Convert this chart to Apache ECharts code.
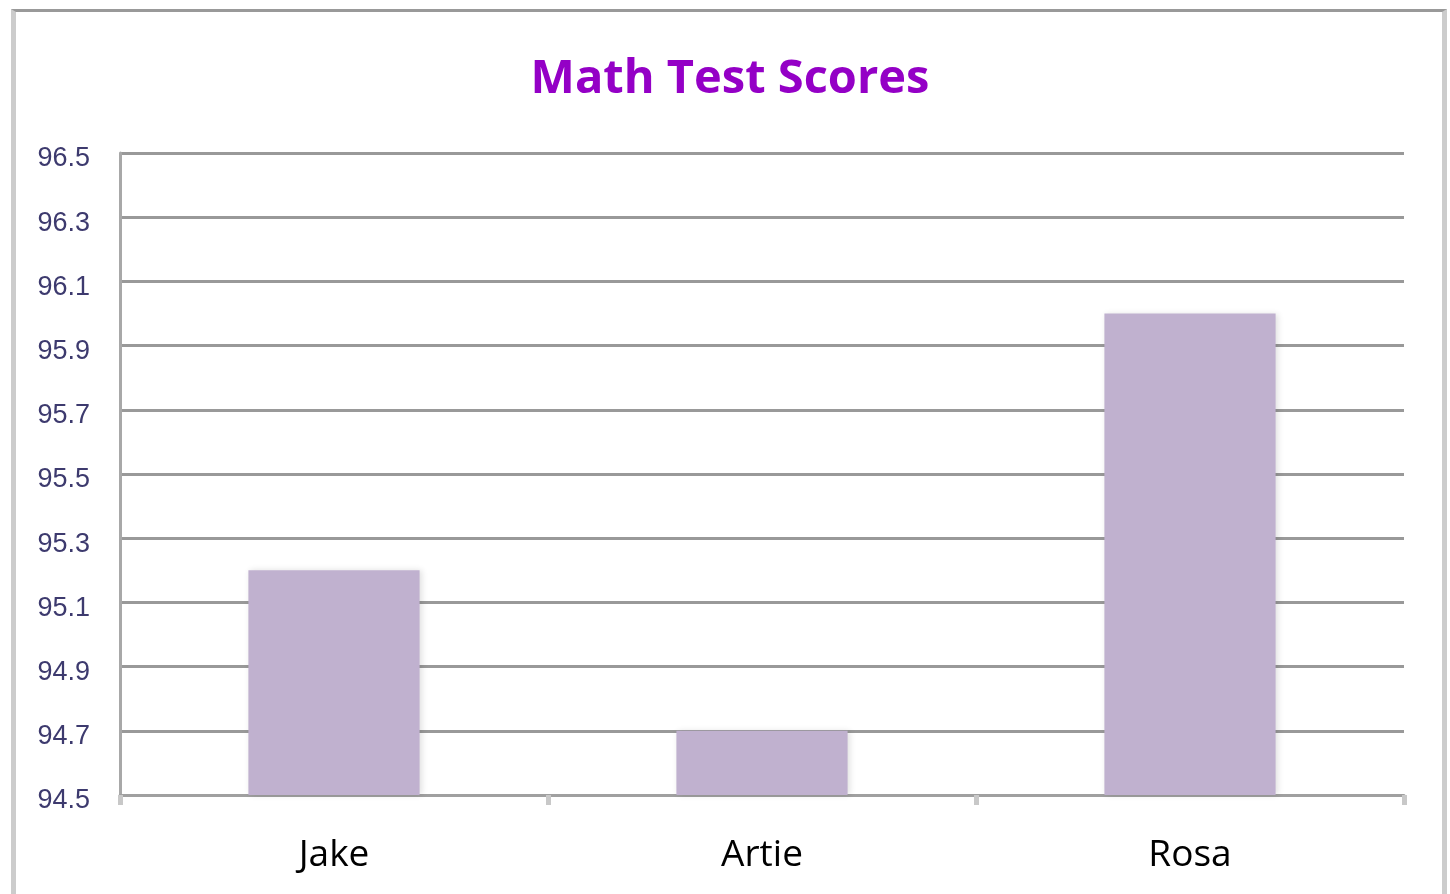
<!DOCTYPE html>
<html>
<head>
<meta charset="utf-8">
<script src="https://cdn.jsdelivr.net/npm/echarts@6/dist/echarts.min.js"></script>
<style>
  html, body { margin: 0; padding: 0; background: #fff; }
  #frame {
    position: absolute; left: 11px; top: 9px; width: 1426px; height: 900px;
    border-top: 3px solid #999; border-left: 5px solid #ccc; border-right: 5px solid #ccc;
  }
  #main { position: absolute; left: 0; top: 0; width: 1450px; height: 894px; }
</style>
</head>
<body>
<div id="frame"></div>
<div id="main"></div>
<script>
// 数据
var names = ['Jake', 'Artie', 'Rosa'];
var scores = [95.2, 94.7, 96.0];

var myChart = echarts.init(document.getElementById('main'));
myChart.setOption({
  title: {
    text: 'Math Test Scores',
    left: 725,
    textAlign: 'center',
    top: 51,
    textStyle: { fontFamily: 'Open Sans', fontWeight: 'bold', fontSize: 47, color: '#9400c6' }
  },
  grid: { left: 120, right: 46, top: 153, bottom: 99, containLabel: false },
  xAxis: {
    type: 'category',
    data: names,
    axisLine: { lineStyle: { color: '#a0a0a0', width: 3 } },
    axisTick: { show: true, length: 10, lineStyle: { color: '#c8c8c8', width: 5 } },
    axisLabel: { margin: 42, fontSize: 37, color: '#000', fontFamily: 'Open Sans' }
  },
  yAxis: {
    type: 'value',
    min: 94.5,
    max: 96.5,
    interval: 0.2,
    axisLine: { show: true, lineStyle: { color: '#a8a8a8', width: 3 } },
    axisTick: { show: false },
    splitLine: { lineStyle: { color: '#999', width: 3 } },
    axisLabel: {
      margin: 30,
      formatter: function (v) { return '{a|' + v.toFixed(1) + '}'; },
      rich: {
        a: { fontSize: 27, color: '#3d3a6e', fontFamily: 'Liberation Sans', padding: [12, 0, 0, 0] }
      }
    }
  },
  series: [{
    type: 'bar',
    data: scores,
    barWidth: '40%',
    itemStyle: {
      color: '#c0b1cf',
      shadowColor: 'rgba(0,0,0,0.12)', shadowBlur: 6, shadowOffsetX: 2
    }
  }]
});
</script>
</body>
</html>
